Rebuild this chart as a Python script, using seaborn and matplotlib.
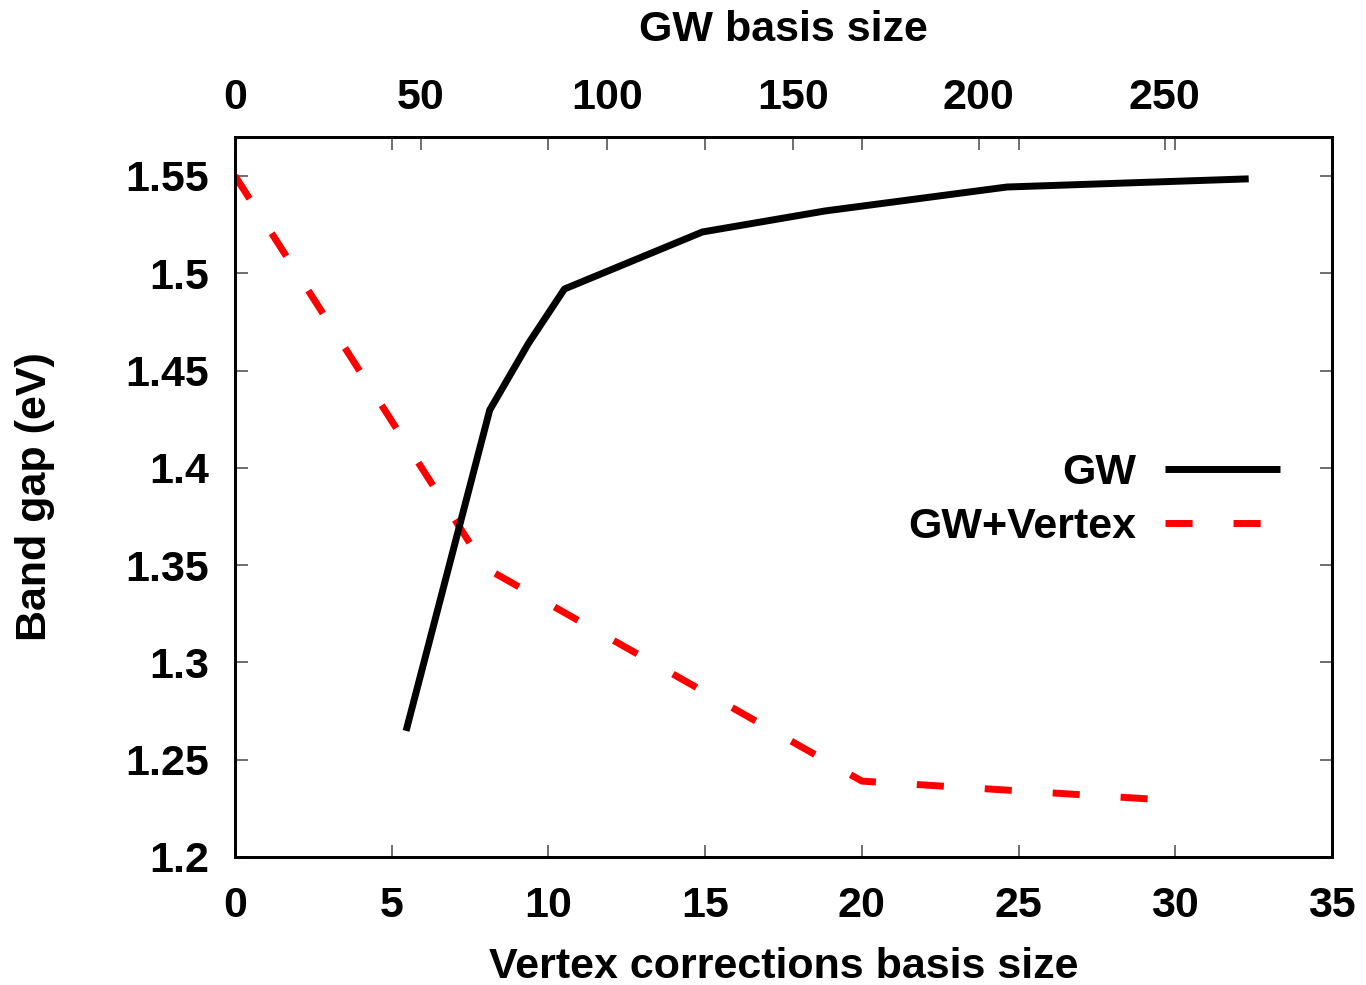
import matplotlib
matplotlib.use("Agg")
import matplotlib.pyplot as plt
import seaborn as sns
import pandas as pd

# ---- data ----
gw_basis = [46, 68.5, 79, 88.6, 125.7, 158.7, 207.6, 272.6]
gw_gap = [1.2648, 1.4297, 1.4642, 1.4919, 1.5212, 1.5320, 1.5443, 1.5485]

vertex_basis = [0, 8, 20, 25, 30]
vertex_gap = [1.550, 1.3485, 1.239, 1.234, 1.229]

bottom_ticks = [0, 5, 10, 15, 20, 25, 30, 35]
top_ticks = [0, 50, 100, 150, 200, 250]
y_ticks = [1.2, 1.25, 1.3, 1.35, 1.4, 1.45, 1.5, 1.55]
y_ticklabels = ["1.2", "1.25", "1.3", "1.35", "1.4", "1.45", "1.5", "1.55"]

sns.set_theme(style="ticks")
plt.rcParams["font.family"] = ["Liberation Sans", "DejaVu Sans"]
plt.rcParams["font.weight"] = "bold"
plt.rcParams["axes.labelweight"] = "bold"
plt.rcParams["text.color"] = "black"
plt.rcParams["axes.labelcolor"] = "black"
plt.rcParams["xtick.labelcolor"] = "black"
plt.rcParams["ytick.labelcolor"] = "black"

FS = 31

fig = plt.figure(figsize=(13.66, 9.85), dpi=100)
ax = fig.add_axes([235 / 1366, 128 / 985, (1332 - 235) / 1366, (857 - 137) / 985])
ax2 = ax.twiny()

df_v = pd.DataFrame({"x": vertex_basis, "y": vertex_gap})
df_g = pd.DataFrame({"x": gw_basis, "y": gw_gap})

sns.lineplot(data=df_v, x="x", y="y", ax=ax, color="#ff0000", linewidth=5,
             linestyle=(0, (3.9, 5.9)), legend=False, sort=False)
sns.lineplot(data=df_g, x="x", y="y", ax=ax2, color="black", linewidth=5,
             legend=False, sort=False)
for ln in ax.get_lines() + ax2.get_lines():
    ln.set_solid_capstyle("butt")
    ln.set_dash_capstyle("butt")

ax.set_xlim(0, 35)
ax.set_ylim(1.2, 1.57)
ax2.set_xlim(0, 295)

ax.set_xticks(bottom_ticks)
ax.set_xticklabels([str(t) for t in bottom_ticks])
ax.set_yticks(y_ticks)
ax.set_yticklabels(y_ticklabels)
ax2.set_xticks(top_ticks)
ax2.set_xticklabels([str(t) for t in top_ticks])

tick_kw = dict(direction="in", length=9, width=1.2, color="#555555",
               labelsize=FS, labelcolor="black")
ax.tick_params(axis="x", which="both", top=True, bottom=True, labeltop=False, pad=21, **tick_kw)
ax.tick_params(axis="y", which="both", left=True, right=True, labelright=False, pad=18.5, **tick_kw)
ax2.tick_params(axis="x", which="both", top=True, bottom=False, labelbottom=False,
                labeltop=True, pad=14, **tick_kw)

for a in (ax, ax2):
    for sp in a.spines.values():
        sp.set_linewidth(2)
        sp.set_color("black")
        sp.set_visible(True)

ax.set_xlabel("Vertex corrections basis size", fontsize=FS, fontweight="bold",
              labelpad=15, color="black")
ax.set_ylabel("Band gap (eV)", fontsize=FS, fontweight="bold", labelpad=51, color="black")
ax2.set_xlabel("GW basis size", fontsize=FS, fontweight="bold", labelpad=26, color="black")

h_gw = ax2.get_lines()[0]
h_v = ax.get_lines()[0]
leg = ax2.legend([h_gw, h_v], ["GW", "GW+Vertex"], loc="center right",
                 bbox_to_anchor=(1280 / 1366, (985 - 500) / 985),
                 bbox_transform=fig.transFigure, frameon=False, markerfirst=False,
                 fontsize=FS, handlelength=2.68, handletextpad=0.65,
                 labelspacing=0.32, borderpad=0, borderaxespad=0)
for t in leg.get_texts():
    t.set_fontweight("bold")
    t.set_color("black")

fig.savefig("out.png", dpi=100)
